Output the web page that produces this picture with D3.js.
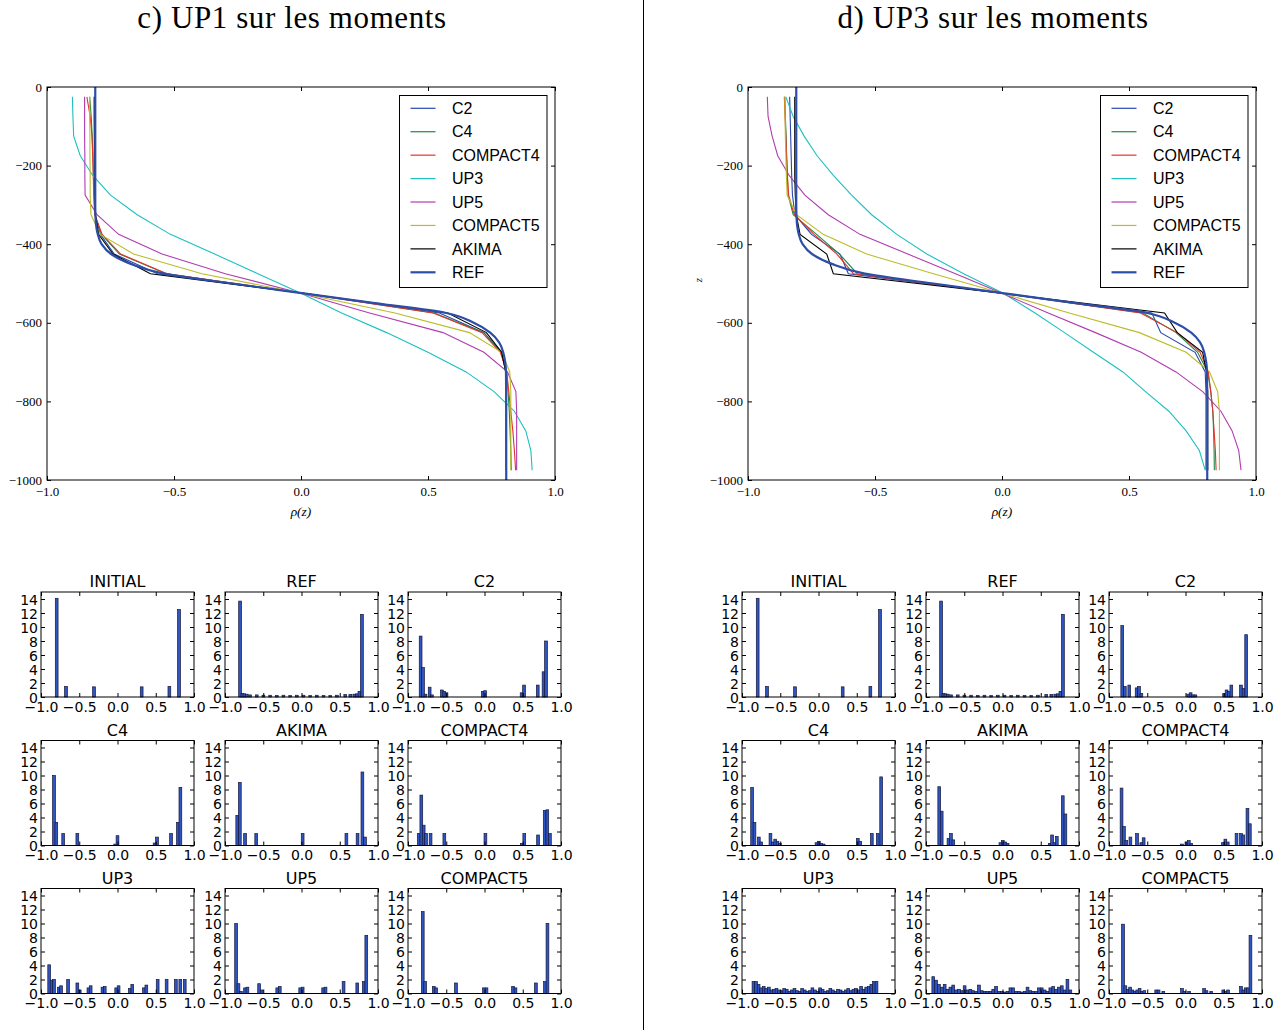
<!DOCTYPE html>
<html><head><meta charset="utf-8">
<script src="https://cdn.jsdelivr.net/npm/d3@7"></script>
<style>body{margin:0;background:#fff}svg{display:block}</style>
</head><body>
<svg id="fig" width="1282" height="1030"></svg>
<script>
// ---------------- DATA ----------------
const panelTitles = ["c) UP1 sur les moments", "d) UP3 sur les moments"];
const seriesNames = ["C2","C4","COMPACT4","UP3","UP5","COMPACT5","AKIMA","REF"];
const seriesColors = ["#2746b0","#1f8a45","#e6322b","#1cc0c0","#b03cb0","#bcbc2a","#000000","#2d4ea8"];
const profileXTicks = [-1.0,-0.5,0.0,0.5,1.0];
const profileYTicks = [0,-200,-400,-600,-800,-1000];
const zLevels = [-25,-75,-125,-175,-225,-275,-325,-375,-425,-475,-525,-575,-625,-675,-725,-775,-825,-875,-925,-975];
const refZ   = [0,-100,-200,-300,-330,-350,-375,-400,-425,-450,-475,-500,-525,-550,-575,-600,-625,-650,-675,-700,-725,-800,-900,-1000];
const refRho = [-0.81,-0.81,-0.81,-0.81,-0.809,-0.807,-0.80,-0.785,-0.748,-0.67,-0.54,-0.27,0.01,0.29,0.572,0.68,0.745,0.78,0.796,0.804,0.807,0.808,0.808,0.808];

// panel c (UP1)
const c_C2       = [-0.815,-0.815,-0.814,-0.814,-0.813,-0.813,-0.811,-0.79,-0.735,-0.565,0.01,0.545,0.72,0.79,0.806,0.808,0.808,0.808,0.808,0.808];
const c_C4       = [-0.832,-0.826,-0.822,-0.819,-0.817,-0.815,-0.812,-0.785,-0.715,-0.53,0.01,0.525,0.72,0.787,0.81,0.815,0.82,0.823,0.826,0.828];
const c_COMPACT4 = [-0.843,-0.83,-0.823,-0.82,-0.818,-0.816,-0.812,-0.783,-0.71,-0.528,0.005,0.52,0.713,0.785,0.81,0.818,0.826,0.834,0.84,0.845];
const c_UP3      = [-0.90,-0.898,-0.895,-0.869,-0.82,-0.75,-0.645,-0.514,-0.34,-0.17,0.0,0.16,0.337,0.5,0.65,0.76,0.84,0.885,0.905,0.91];
const c_UP5      = [-0.852,-0.852,-0.852,-0.851,-0.851,-0.85,-0.803,-0.718,-0.547,-0.298,0.0,0.27,0.559,0.72,0.813,0.846,0.849,0.849,0.849,0.849];
const c_COMPACT5 = [-0.832,-0.832,-0.831,-0.831,-0.83,-0.83,-0.827,-0.79,-0.659,-0.39,0.0,0.37,0.663,0.79,0.822,0.826,0.826,0.826,0.826,0.826];
const c_AKIMA    = [-0.812,-0.812,-0.812,-0.812,-0.812,-0.811,-0.809,-0.797,-0.74,-0.593,0.01,0.578,0.73,0.79,0.806,0.808,0.808,0.808,0.808,0.808];

// panel d (UP3)
const d_C2       = [-0.836,-0.834,-0.832,-0.83,-0.828,-0.825,-0.815,-0.75,-0.638,-0.605,0.0,0.59,0.625,0.76,0.8,0.803,0.803,0.803,0.803,0.803];
const d_C4       = [-0.855,-0.853,-0.85,-0.848,-0.845,-0.842,-0.822,-0.73,-0.64,-0.57,0.0,0.555,0.685,0.77,0.81,0.822,0.83,0.833,0.835,0.836];
const d_COMPACT4 = [-0.857,-0.854,-0.851,-0.848,-0.845,-0.84,-0.818,-0.74,-0.65,-0.585,0.0,0.545,0.69,0.78,0.812,0.822,0.83,0.835,0.84,0.843];
const d_UP3      = [-0.851,-0.822,-0.779,-0.728,-0.664,-0.592,-0.513,-0.414,-0.296,-0.151,0.005,0.13,0.246,0.36,0.476,0.565,0.657,0.725,0.777,0.80];
const d_UP5      = [-0.924,-0.921,-0.905,-0.883,-0.838,-0.776,-0.684,-0.559,-0.371,-0.183,0.0,0.182,0.368,0.548,0.685,0.79,0.862,0.906,0.932,0.941];
const d_COMPACT5 = [-0.855,-0.854,-0.853,-0.851,-0.849,-0.846,-0.809,-0.704,-0.533,-0.27,0.0,0.265,0.541,0.725,0.817,0.849,0.856,0.856,0.856,0.856];
const d_AKIMA    = [-0.816,-0.816,-0.816,-0.816,-0.816,-0.814,-0.81,-0.795,-0.69,-0.664,0.0,0.64,0.69,0.79,0.805,0.81,0.81,0.81,0.81,0.81];

// histograms: [bin centre, density]
const histTitles = ["INITIAL","REF","C2","C4","AKIMA","COMPACT4","UP3","UP5","COMPACT5"];
const histXTicks = [-1.0,-0.5,0.0,0.5,1.0];
const histYTicks = [0,2,4,6,8,10,12,14];
const histBinWidth = 0.036;

const h_INITIAL = [[-0.795,14.1],[-0.673,1.5],[-0.307,1.45],[0.316,1.45],[0.678,1.5],[0.804,12.5]];
const h_REF = [[-0.803,13.7],[-0.773,0.5],[-0.747,0.45],[-0.716,0.4],[-0.672,0.3],[-0.585,0.3],[-0.498,0.25],[-0.41,0.25],[-0.323,0.2],[-0.236,0.25],[-0.148,0.2],[-0.061,0.25],[0.026,0.25],[0.114,0.2],[0.2,0.25],[0.288,0.2],[0.376,0.2],[0.463,0.25],[0.572,0.35],[0.638,0.35],[0.69,0.4],[0.725,0.45],[0.757,0.8],[0.79,11.8]];

const hc_C2 = [[-0.835,8.7],[-0.804,4.2],[-0.772,0.4],[-0.717,1.4],[-0.687,0.3],[-0.557,1.0],[-0.527,0.8],[-0.497,0.6],[-0.022,0.8],[0.008,0.9],[0.485,0.6],[0.517,1.7],[0.696,1.7],[0.772,3.6],[0.804,8.0]];
const hc_C4 = [[-0.83,10.0],[-0.80,3.3],[-0.71,1.7],[-0.525,1.7],[-0.03,0.2],[0.0,1.4],[0.485,0.35],[0.516,1.2],[0.70,1.7],[0.79,3.3],[0.822,8.3]];
const hc_AKIMA = [[-0.84,4.3],[-0.806,9.0],[-0.738,1.7],[-0.592,1.7],[0.015,1.7],[0.587,1.7],[0.733,1.7],[0.796,10.5],[0.83,1.2]];
const hc_COMPACT4 = [[-0.86,1.7],[-0.826,7.2],[-0.795,2.9],[-0.765,1.7],[-0.705,1.7],[-0.525,1.7],[0.012,1.7],[0.488,0.3],[0.52,1.7],[0.70,1.5],[0.787,5.0],[0.821,5.1],[0.855,1.7]];
const hc_UP3 = [[-0.893,4.1],[-0.862,1.9],[-0.83,2.0],[-0.768,0.9],[-0.738,1.1],[-0.646,2.0],[-0.525,1.5],[-0.494,0.5],[-0.38,0.8],[-0.351,1.1],[-0.196,0.9],[-0.167,1.0],[-0.017,0.8],[0.014,1.1],[0.162,0.7],[0.193,1.3],[0.346,0.8],[0.377,1.2],[0.525,2.0],[0.642,2.0],[0.763,2.0],[0.821,2.0],[0.879,2.0]];
const hc_UP5 = [[-0.855,10.0],[-0.824,1.4],[-0.792,0.3],[-0.738,0.8],[-0.707,0.9],[-0.554,1.4],[-0.521,0.5],[-0.317,0.8],[-0.284,1.0],[-0.017,0.8],[0.015,0.9],[0.283,0.8],[0.314,0.9],[0.55,1.7],[0.729,1.5],[0.814,1.7],[0.847,8.3]];
const hc_COMPACT5 = [[-0.807,11.7],[-0.776,1.7],[-0.663,1.0],[-0.632,0.8],[-0.373,1.5],[-0.007,0.8],[0.026,0.8],[0.373,1.0],[0.405,0.8],[0.672,1.5],[0.791,1.7],[0.823,10.0]];

const hd_C2 = [[-0.827,10.2],[-0.793,1.5],[-0.735,1.7],[-0.639,1.3],[-0.608,1.5],[-0.577,0.5],[0.036,0.4],[0.067,0.6],[0.098,0.3],[0.129,0.3],[0.505,0.5],[0.537,1.0],[0.568,0.8],[0.599,1.7],[0.725,1.7],[0.759,1.2],[0.793,8.9]];
const hd_C4 = [[-0.868,8.3],[-0.837,3.3],[-0.78,1.2],[-0.749,0.5],[-0.628,1.7],[-0.597,0.5],[-0.566,0.9],[-0.536,0.6],[-0.505,0.3],[-0.026,0.4],[0.005,0.6],[0.036,0.3],[0.067,0.2],[0.514,1.0],[0.545,0.6],[0.697,1.7],[0.775,1.7],[0.819,9.8]];
const hd_AKIMA = [[-0.827,8.4],[-0.795,4.9],[-0.706,1.0],[-0.674,1.7],[-0.643,0.8],[-0.027,0.4],[0.004,0.7],[0.035,0.5],[0.066,0.3],[0.617,0.3],[0.648,1.5],[0.679,0.4],[0.71,1.3],[0.788,7.1],[0.822,4.5]];
const hd_COMPACT4 = [[-0.836,8.2],[-0.805,2.7],[-0.774,0.7],[-0.72,1.2],[-0.634,1.7],[-0.578,0.4],[-0.547,1.1],[-0.046,0.2],[0.012,0.5],[0.043,0.7],[0.074,0.3],[0.49,0.4],[0.521,0.9],[0.552,0.5],[0.667,1.7],[0.725,1.7],[0.756,1.5],[0.81,5.3],[0.841,3.1]];
const hd_UP3 = [[-0.85,1.7],[-0.817,1.7],[-0.783,1.3],[-0.75,0.8],[-0.716,1.0],[-0.683,0.7],[-0.649,0.9],[-0.616,0.5],[-0.582,0.6],[-0.549,0.7],[-0.515,0.5],[-0.482,0.4],[-0.448,0.7],[-0.415,0.6],[-0.381,0.3],[-0.348,0.5],[-0.314,0.7],[-0.281,0.4],[-0.247,0.3],[-0.214,0.7],[-0.18,0.5],[-0.147,0.3],[-0.113,0.4],[-0.08,0.8],[-0.046,0.5],[-0.013,0.3],[0.021,0.8],[0.054,0.6],[0.088,0.3],[0.121,0.4],[0.155,0.7],[0.188,0.5],[0.222,0.3],[0.255,0.6],[0.289,0.5],[0.322,0.3],[0.356,0.5],[0.389,0.7],[0.423,0.4],[0.456,0.6],[0.49,0.7],[0.523,0.5],[0.557,1.0],[0.59,0.6],[0.624,0.9],[0.657,1.0],[0.691,1.3],[0.724,1.7],[0.758,1.7]];
const hd_UP5 = [[-0.905,2.4],[-0.868,1.9],[-0.831,1.3],[-0.793,0.9],[-0.756,1.3],[-0.719,0.6],[-0.681,0.9],[-0.644,1.2],[-0.607,0.5],[-0.569,0.6],[-0.532,0.4],[-0.495,1.1],[-0.457,0.5],[-0.42,0.6],[-0.383,0.4],[-0.345,0.3],[-0.308,1.2],[-0.271,0.4],[-0.233,0.3],[-0.196,0.3],[-0.159,0.3],[-0.121,0.6],[-0.084,1.0],[-0.047,0.3],[-0.009,0.3],[0.028,0.2],[0.065,0.3],[0.103,0.8],[0.14,0.8],[0.177,0.3],[0.215,0.3],[0.252,0.2],[0.289,0.3],[0.327,0.9],[0.364,0.4],[0.401,0.3],[0.439,0.3],[0.476,0.8],[0.513,0.8],[0.551,0.5],[0.588,0.3],[0.625,0.8],[0.663,1.0],[0.7,0.6],[0.737,0.9],[0.775,1.1],[0.812,0.5],[0.849,2.0],[0.887,0.5]];
const hd_COMPACT5 = [[-0.817,9.9],[-0.786,1.1],[-0.755,0.6],[-0.724,0.9],[-0.693,0.5],[-0.662,0.3],[-0.631,0.5],[-0.6,0.7],[-0.569,0.3],[-0.538,0.4],[-0.383,0.5],[-0.352,0.5],[-0.29,0.3],[-0.046,0.7],[-0.015,0.3],[0.047,0.3],[0.243,0.7],[0.274,0.4],[0.336,0.3],[0.494,0.5],[0.525,0.3],[0.556,0.5],[0.725,1.0],[0.756,0.5],[0.787,0.8],[0.818,0.8],[0.849,8.3]];

const histSetsC = [h_INITIAL,h_REF,hc_C2,hc_C4,hc_AKIMA,hc_COMPACT4,hc_UP3,hc_UP5,hc_COMPACT5];
const histSetsD = [h_INITIAL,h_REF,hd_C2,hd_C4,hd_AKIMA,hd_COMPACT4,hd_UP3,hd_UP5,hd_COMPACT5];
const profilesC = [c_C2,c_C4,c_COMPACT4,c_UP3,c_UP5,c_COMPACT5,c_AKIMA];
const profilesD = [d_C2,d_C4,d_COMPACT4,d_UP3,d_UP5,d_COMPACT5,d_AKIMA];

// ---------------- DRAWING ----------------
const svg = d3.select("#fig");
const SERIF = "'DejaVu Serif','Liberation Serif',serif";
const TSERIF = "'Liberation Serif','DejaVu Serif',serif";
const SANS = "'DejaVu Sans',sans-serif";
const LEGF = "'Liberation Sans',Arial,sans-serif";

svg.append("line").attr("x1",643.5).attr("x2",643.5).attr("y1",0).attr("y2",1030)
  .attr("stroke","#000").attr("stroke-width",1);

function styleAxis(g, font, size) {
  g.select(".domain").remove();
  g.selectAll(".tick line").attr("stroke","#000").attr("stroke-width",1);
  g.selectAll(".tick text").attr("fill","#000").attr("font-family",font).attr("font-size",size);
}

function drawProfile(left, title, profiles, showZ) {
  const x = d3.scaleLinear().domain([-1,1]).range([left, left+508]);
  const y = d3.scaleLinear().domain([0,-1000]).range([87,480]);
  const g = svg.append("g");
  g.append("text").attr("x", left+245).attr("y", 28).attr("text-anchor","middle")
    .attr("font-family",TSERIF).attr("font-size",31).attr("letter-spacing","0.6px").text(title);

  const line = d3.line().x(d=>x(d[0])).y(d=>y(d[1]));
  profiles.forEach((vals,i)=>{
    g.append("path").datum(vals.map((v,k)=>[v,zLevels[k]]))
      .attr("d",line).attr("fill","none").attr("stroke",seriesColors[i]).attr("stroke-width",1.1);
  });
  const refLine = d3.line().x(d=>x(d[0])).y(d=>y(d[1])).curve(d3.curveMonotoneY);
  g.append("path").datum(refRho.map((v,k)=>[v,refZ[k]]))
    .attr("d",refLine).attr("fill","none").attr("stroke",seriesColors[7]).attr("stroke-width",2.2);

  g.append("rect").attr("x",left).attr("y",87).attr("width",508).attr("height",393)
    .attr("fill","none").attr("stroke","#000").attr("stroke-width",1);

  const fmtX = d3.format(".1f");
  const ax = g.append("g").attr("transform","translate(0,480)")
    .call(d3.axisBottom(x).tickValues(profileXTicks).tickSize(-4).tickPadding(7).tickFormat(fmtX));
  styleAxis(ax, TSERIF, 13);
  const at = g.append("g").attr("transform","translate(0,87)")
    .call(d3.axisTop(x).tickValues(profileXTicks).tickSize(-4).tickFormat(""));
  styleAxis(at, TSERIF, 12);
  const ay = g.append("g").attr("transform",`translate(${left},0)`)
    .call(d3.axisLeft(y).tickValues(profileYTicks).tickSize(-4).tickPadding(5).tickFormat(d3.format("d")));
  styleAxis(ay, TSERIF, 13);
  const ar = g.append("g").attr("transform",`translate(${left+508},0)`)
    .call(d3.axisRight(y).tickValues(profileYTicks).tickSize(-4).tickFormat(""));
  styleAxis(ar, TSERIF, 12);

  g.append("text").attr("x", left+254).attr("y", 516).attr("text-anchor","middle")
    .attr("font-family",TSERIF).attr("font-style","italic").attr("font-size",13.5).text("ρ(z)");
  if (showZ) {
    g.append("text").attr("transform",`translate(${left-46},280) rotate(-90)`).attr("text-anchor","middle")
      .attr("font-family",TSERIF).attr("font-style","italic").attr("font-size",11).text("z");
  }

  // legend
  const lx = left+352.5, ly = 95.5;
  g.append("rect").attr("x",lx).attr("y",ly).attr("width",147.5).attr("height",192)
    .attr("fill","#fff").attr("stroke","#000").attr("stroke-width",1);
  seriesNames.forEach((n,i)=>{
    const yy = 108.3 + i*23.43;
    g.append("line").attr("x1",lx+11).attr("x2",lx+36).attr("y1",yy).attr("y2",yy)
      .attr("stroke",seriesColors[i]).attr("stroke-width", i===7?2.2:1.2);
    g.append("text").attr("x",lx+52.5).attr("y",yy).attr("dy","0.36em")
      .attr("font-family",LEGF).attr("font-size",16).text(n);
  });
}

function drawHist(left, top, title, data) {
  const w = 153, h = 105;
  const x = d3.scaleLinear().domain([-1,1]).range([left, left+w]);
  const y = d3.scaleLinear().domain([0,15]).range([top+h, top]);
  const g = svg.append("g");
  g.append("text").attr("x", left+w/2).attr("y", top-5).attr("text-anchor","middle")
    .attr("font-family",SANS).attr("font-size",16).text(title);
  const bw = x(histBinWidth) - x(0);
  g.selectAll("rect.bar").data(data).join("rect").attr("class","bar")
    .attr("x", d=>x(d[0]) - bw/2).attr("width", bw)
    .attr("y", d=>y(d[1])).attr("height", d=>y(0)-y(d[1]))
    .attr("fill","#2f55c2").attr("stroke","#15183a").attr("stroke-width",0.7);
  g.append("rect").attr("x",left).attr("y",top).attr("width",w).attr("height",h)
    .attr("fill","none").attr("stroke","#000").attr("stroke-width",1);
  const fmt = d3.format(".1f");
  const ab = g.append("g").attr("transform",`translate(0,${top+h})`)
    .call(d3.axisBottom(x).tickValues(histXTicks).tickSize(-4).tickPadding(5).tickFormat(fmt));
  styleAxis(ab, SANS, 14);
  const at = g.append("g").attr("transform",`translate(0,${top})`)
    .call(d3.axisTop(x).tickValues(histXTicks).tickSize(-4).tickFormat(""));
  styleAxis(at, SANS, 12);
  const al = g.append("g").attr("transform",`translate(${left},0)`)
    .call(d3.axisLeft(y).tickValues(histYTicks).tickSize(-4).tickPadding(3).tickFormat(d3.format("d")));
  styleAxis(al, SANS, 14);
  al.selectAll(".tick text").attr("dy","0.36em");
  const ar = g.append("g").attr("transform",`translate(${left+w},0)`)
    .call(d3.axisRight(y).tickValues(histYTicks).tickSize(-4).tickFormat(""));
  styleAxis(ar, SANS, 12);
}

drawProfile(47, panelTitles[0], profilesC, false);
drawProfile(748, panelTitles[1], profilesD, true);

const colLeftsC = [41,225,408];
const colLeftsD = [742,926,1109];
const rowTops = [592,740.5,888.5];
histTitles.forEach((t,i)=>{
  const r = Math.floor(i/3), c = i%3;
  drawHist(colLeftsC[c], rowTops[r], t, histSetsC[i]);
  drawHist(colLeftsD[c], rowTops[r], t, histSetsD[i]);
});
</script>
</body></html>
